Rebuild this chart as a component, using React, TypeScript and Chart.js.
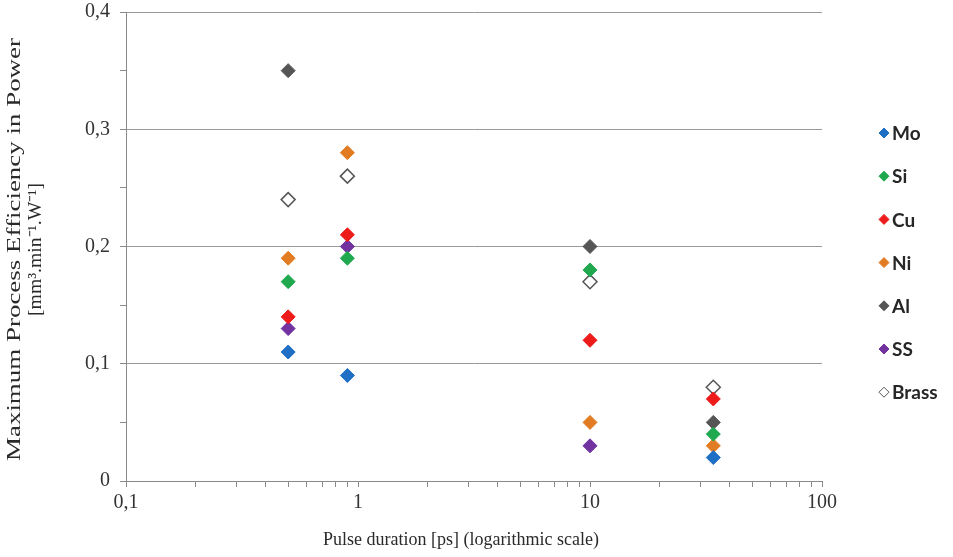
import React, { useEffect, useRef } from 'react';
import { Chart, registerables } from 'chart.js';

Chart.register(...registerables);

// ---- Data ----
const seriesNames = ['Mo', 'Si', 'Cu', 'Ni', 'Al', 'SS', 'Brass'];

const moPulse = [0.5, 0.9, 34];
const moEff = [0.11, 0.09, 0.02];

const siPulse = [0.5, 0.9, 10, 34];
const siEff = [0.17, 0.19, 0.18, 0.04];

const cuPulse = [0.5, 0.9, 10, 34];
const cuEff = [0.14, 0.21, 0.12, 0.07];

const niPulse = [0.5, 0.9, 10, 34];
const niEff = [0.19, 0.28, 0.05, 0.03];

const alPulse = [0.5, 10, 34];
const alEff = [0.35, 0.2, 0.05];

const ssPulse = [0.5, 0.9, 10];
const ssEff = [0.13, 0.2, 0.03];

const brassPulse = [0.5, 0.9, 10, 34];
const brassEff = [0.24, 0.26, 0.17, 0.08];

const xTickValues = [0.1, 0.2, 0.3, 0.4, 0.5, 0.6, 0.7, 0.8, 0.9, 1, 2, 3, 4, 5, 6, 7, 8, 9, 10, 20, 30, 40, 50, 60, 70, 80, 90, 100];
const xLabelValues = [0.1, 1, 10, 100];
const xTickLabels = ['0,1', '1', '10', '100'];

const yTickValues = [0, 0.05, 0.1, 0.15, 0.2, 0.25, 0.3, 0.35, 0.4];
const yTickLabels = ['0', '', '0,1', '', '0,2', '', '0,3', '', '0,4'];

const xTitle = 'Pulse duration [ps] (logarithmic scale)';
const yTitleLines = ['Maximum Process Efficiency in Power', '[mm³.min⁻¹.W⁻¹]'];

// ---- Styles ----
const fillColors = ['#1f6fc4', '#20a84f', '#ee1b1b', '#e27c22', '#555555', '#7232a0', '#ffffff'];
const strokeColors = ['#1f6fc4', '#20a84f', '#ee1b1b', '#e27c22', '#555555', '#7232a0', '#555555'];

const pulses = [moPulse, siPulse, cuPulse, niPulse, alPulse, ssPulse, brassPulse];
const effs = [moEff, siEff, cuEff, niEff, alEff, ssEff, brassEff];

const textPlugin = {
  id: 'customText',
  afterDraw(chart: any) {
    const ctx = chart.ctx as CanvasRenderingContext2D;
    const area = chart.chartArea;
    ctx.save();
    // x title
    ctx.fillStyle = '#2a2a2a';
    ctx.font = '18px "Liberation Serif"';
    ctx.textAlign = 'center';
    ctx.textBaseline = 'middle';
    ctx.fillText(xTitle, (area.left + area.right) / 2 - 13, chart.height - 17);

    // y title (stretched along its length like the reference)
    const lineX = [15, 36];
    const lineLen = [423, 133];
    const cy = (area.top + area.bottom) / 2 + 3;
    ctx.font = '19px "Liberation Serif"';
    yTitleLines.forEach((line, i) => {
      const w = ctx.measureText(line).width;
      const s = lineLen[i] / w;
      ctx.save();
      ctx.translate(lineX[i], cy);
      ctx.rotate(-Math.PI / 2);
      ctx.scale(s, 1);
      ctx.fillText(line, 0, 0);
      ctx.restore();
    });

    // legend
    const lx = area.right + 62;
    const ly0 = 133;
    const step = 43.2;
    ctx.font = 'bold 19px Lato';
    ctx.textAlign = 'left';
    seriesNames.forEach((name, i) => {
      const y = ly0 + i * step;
      const r = 5;
      ctx.beginPath();
      ctx.moveTo(lx, y - r);
      ctx.lineTo(lx + r, y);
      ctx.lineTo(lx, y + r);
      ctx.lineTo(lx - r, y);
      ctx.closePath();
      ctx.fillStyle = fillColors[i];
      ctx.fill();
      ctx.lineWidth = 1;
      ctx.strokeStyle = strokeColors[i];
      ctx.stroke();
      ctx.fillStyle = '#262626';
      ctx.fillText(name, lx + 8, y + 1);
    });
    ctx.restore();
  },
};

export default function App() {
  const canvasRef = useRef<HTMLCanvasElement | null>(null);

  useEffect(() => {
    document.body.style.margin = '0';
    const canvas = canvasRef.current;
    if (!canvas) return;

    const datasets = seriesNames.map((name, i) => ({
      label: name,
      data: pulses[i].map((p, j) => ({ x: p, y: effs[i][j] })),
      backgroundColor: fillColors[i],
      borderColor: strokeColors[i],
      borderWidth: i === 6 ? 1.5 : 1,
      pointStyle: 'rectRot' as const,
      pointRadius: 7,
      pointHoverRadius: 7,
      showLine: false,
    }));

    const tickFont = { family: '"Liberation Serif"', size: 20 };

    const chart = new Chart(canvas, {
      type: 'scatter',
      data: { datasets },
      options: {
        animation: false,
        responsive: false,
        layout: { padding: { top: 12, right: 131, left: 0, bottom: 0 } },
        plugins: {
          legend: { display: false },
          tooltip: { enabled: false },
        },
        scales: {
          x: {
            type: 'logarithmic',
            min: 0.1,
            max: 100,
            afterBuildTicks: (scale: any) => {
              scale.ticks = xTickValues.map((v) => ({ value: v }));
            },
            afterFit: (scale: any) => {
              scale.height = 76;
              scale.paddingLeft = 0;
              scale.paddingRight = 0;
            },
            ticks: {
              autoSkip: false,
              maxRotation: 0,
              minRotation: 0,
              padding: 4,
              color: '#333',
              font: tickFont,
              callback: (value: any) => {
                const k = xLabelValues.indexOf(Number(value));
                return k >= 0 ? xTickLabels[k] : '';
              },
            },
            grid: {
              drawOnChartArea: false,
              drawTicks: true,
              tickLength: 6,
              tickColor: '#8a8a8a',
            },
            border: { display: true, color: '#8a8a8a', width: 1 },
          },
          y: {
            min: 0,
            max: 0.4,
            afterBuildTicks: (scale: any) => {
              scale.ticks = yTickValues.map((v) => ({ value: v }));
            },
            afterFit: (scale: any) => {
              scale.width = 126;
              scale.paddingTop = 0;
              scale.paddingBottom = 0;
            },
            ticks: {
              padding: 10,
              color: '#333',
              font: tickFont,
              callback: (_v: any, index: number) => yTickLabels[index],
            },
            grid: {
              color: (c: any) => (yTickLabels[c.index] ? '#9a9a9a' : 'rgba(0,0,0,0)'),
              drawTicks: true,
              tickLength: 6,
              tickColor: '#8a8a8a',
            },
            border: { display: true, color: '#8a8a8a', width: 1 },
          },
        },
      },
      plugins: [textPlugin],
    });

    return () => chart.destroy();
  }, []);

  return (
    <div style={{ width: 953, height: 557 }}>
      <canvas ref={canvasRef} width={953} height={557} />
    </div>
  );
}
